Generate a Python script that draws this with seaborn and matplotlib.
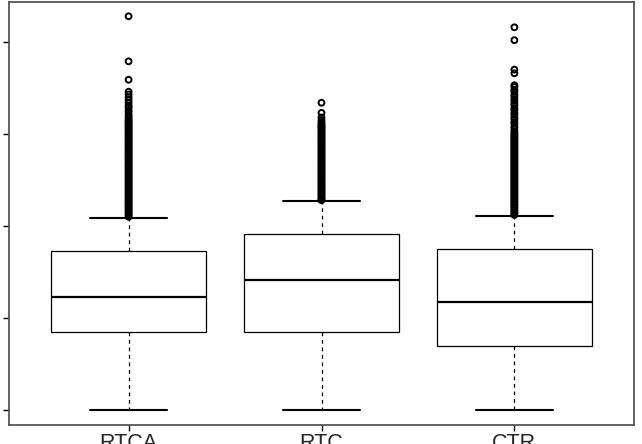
import pandas as pd
import matplotlib.pyplot as plt
import seaborn as sns

GROUPS = ['RTCA', 'RTC', 'CTR']

# five-number summary per group (lower whisker, q1, median, q3, upper whisker)
LOW = [0.0, 0.0, 0.0]
Q1 = [8.5, 8.5, 7.0]
MEDIAN = [12.3, 14.1, 11.7]
Q3 = [17.3, 19.1, 17.5]
HIGH = [20.9, 22.7, 21.1]

# outliers (the solid columns are many close points)
RTCA_OUT = [42.8, 37.9, 35.9, 34.6, 34.3, 34.0, 33.7, 33.4, 33.1, 32.9,
            32.6, 32.4, 32.1, 31.9, 31.7,
            31.5, 31.4, 31.2, 31.1, 30.9, 30.8, 30.6, 30.5, 30.3, 30.2,
            30.0, 29.9, 29.7, 29.6, 29.4, 29.3, 29.1, 29.0, 28.8, 28.7,
            28.5, 28.4, 28.2, 28.1, 27.9, 27.8, 27.6, 27.5, 27.3, 27.2,
            27.0, 26.9, 26.7, 26.6, 26.4, 26.3, 26.1, 26.0, 25.8, 25.7,
            25.5, 25.4, 25.2, 25.1, 24.9, 24.8, 24.6, 24.5, 24.3, 24.2,
            24.0, 23.9, 23.7, 23.6, 23.4, 23.3, 23.1, 23.0, 22.8, 22.7,
            22.5, 22.4, 22.2, 22.1, 21.9, 21.8, 21.6, 21.5, 21.3, 21.2,
            21.0]
RTC_OUT = [33.4, 32.3, 31.8, 31.5, 31.3,
           31.1, 31.0, 30.8, 30.7, 30.5, 30.4, 30.2, 30.1, 29.9, 29.8,
           29.6, 29.5, 29.3, 29.2, 29.0, 28.9, 28.7, 28.6, 28.4, 28.3,
           28.1, 28.0, 27.8, 27.7, 27.5, 27.4, 27.2, 27.1, 26.9, 26.8,
           26.6, 26.5, 26.3, 26.2, 26.0, 25.9, 25.7, 25.6, 25.4, 25.3,
           25.1, 25.0, 24.8, 24.7, 24.5, 24.4, 24.2, 24.1, 23.9, 23.8,
           23.6, 23.5, 23.3, 23.2, 23.0, 22.9, 22.8]
CTR_OUT = [41.6, 40.2, 37.0, 36.6, 35.3, 35.1, 34.8, 34.6, 34.3, 34.1,
           33.8, 33.6, 33.3, 33.1, 32.8, 32.6, 32.3, 32.1, 31.8, 31.6,
           31.3, 31.1, 30.8, 30.6, 30.3, 30.1,
           29.9, 29.8, 29.6, 29.5, 29.3, 29.2, 29.0, 28.9, 28.7, 28.6,
           28.4, 28.3, 28.1, 28.0, 27.8, 27.7, 27.5, 27.4, 27.2, 27.1,
           26.9, 26.8, 26.6, 26.5, 26.3, 26.2, 26.0, 25.9, 25.7, 25.6,
           25.4, 25.3, 25.1, 25.0, 24.8, 24.7, 24.5, 24.4, 24.2, 24.1,
           23.9, 23.8, 23.6, 23.5, 23.3, 23.2, 23.0, 22.9, 22.7, 22.6,
           22.4, 22.3, 22.1, 22.0, 21.8, 21.7, 21.5, 21.4, 21.2]

Y_TICKS = [0, 10, 20, 30, 40]


def box_frame():
    rows = []
    for i, name in enumerate(GROUPS):
        for v in (LOW[i], Q1[i], MEDIAN[i], Q3[i], HIGH[i]):
            rows.append({'group': name, 'value': v})
    return pd.DataFrame(rows)


def outlier_frame():
    rows = []
    for name, vals in zip(GROUPS, [RTCA_OUT, RTC_OUT, CTR_OUT]):
        rows += [{'group': name, 'value': v} for v in vals]
    return pd.DataFrame(rows)


def main():
    sns.set_theme(style='white')
    plt.rcParams['font.family'] = ['Liberation Sans', 'DejaVu Sans']

    fig = plt.figure(figsize=(6.42, 4.44), dpi=100)
    ax = fig.add_axes([9 / 642, 19 / 444, 625 / 642, 423 / 444])

    sns.boxplot(data=box_frame(), x='group', y='value', order=GROUPS,
                whis=(0, 100), width=0.8, color='white', linecolor='black',
                linewidth=0.9, capwidths=0.4,
                medianprops={'linewidth': 1.6},
                whiskerprops={'linestyle': (0, (3, 3))},
                capprops={'linewidth': 1.5}, ax=ax)

    n_before = len(ax.collections)
    sns.stripplot(data=outlier_frame(), x='group', y='value', order=GROUPS,
                  jitter=False, size=4.2, color='black', ax=ax)
    for coll in ax.collections[n_before:]:
        coll.set_facecolor('none')
        coll.set_edgecolor('black')
        coll.set_linewidth(1.4)

    ax.set_xlim(-0.62, 2.62)
    ax.set_ylim(-1.63, 44.35)
    ax.set_yticks(Y_TICKS)
    ax.set_yticklabels([])
    ax.set_xlabel('')
    ax.set_ylabel('')
    ax.tick_params(axis='both', direction='out', length=4.5, width=1,
                   color='black', left=True, bottom=True)
    ax.tick_params(axis='x', labelsize=15.5, pad=1.5)
    for sp in ax.spines.values():
        sp.set_color('#555555')
        sp.set_linewidth(1.3)

    fig.savefig('out.png', dpi=100)


if __name__ == '__main__':
    main()
